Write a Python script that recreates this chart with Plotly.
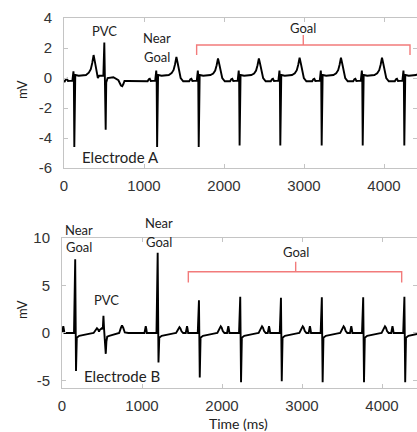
import plotly.graph_objects as go

# ---------------- data ----------------
# Electrode A: beat (spike) times and peak values
A_beat_ms = [125, 1160, 1680, 2191, 2700, 3217, 3730, 4250]
A_r_mv = [0.45, 0.5, 0.5, 0.5, 0.5, 0.5, 0.5, 0.5]
A_s_mv = [-4.6, -4.6, -4.6, -4.5, -4.5, -4.5, -4.5, -4.5]
A_t_mv = [1.53, 1.4, 1.3, 1.3, 1.35, 1.35, 1.35, 1.3]
# typical beat shape (offset from spike, ms / mV)
A_wave_dt = [-115, -100, -88, -75, -20, -7, -2, 4, 10, 16, 60, 150, 185, 210, 228, 245, 262, 278, 298, 330]
A_wave_mv = [-0.22, -0.08, -0.05, -0.2, -0.18, 0.5, 0.1, -4.5, -0.4, 0.2, 0.15, 0.2, 0.3, 0.5, 0.85, 1.3, 0.9, 0.45, 0.0, -0.22]
A_start_ms = [0]
A_start_mv = [-0.15]
# premature ventricular complex in electrode A
A_pvc_ms = [440, 470, 492, 504, 511, 516, 521, 528, 545, 617, 680, 712, 728, 742, 756, 800]
A_pvc_mv = [0.15, 0.15, 0.15, 2.37, 0.3, -0.3, -3.45, -0.3, 0.0, 0.05, -0.15, -0.5, -0.55, -0.4, -0.2, -0.2]

# Electrode B
B_beat_ms = [165, 1196, 1712, 2228, 2737, 3248, 3765, 4280]
B_r_mv = [7.75, 8.45, 3.45, 3.8, 3.7, 3.75, 3.75, 3.8]
B_s_mv = [-4.0, -3.1, -4.7, -5.2, -5.1, -5.2, -5.2, -5.2]
B_t_mv = [0.5, 0.6, 0.7, 0.7, 0.7, 0.7, 0.7, 0.7]
B_wave_dt = [-165, -155, -149, -143, -135, -15, 0, 10, 20, 50, 120, 200, 230, 245, 260, 272, 284, 298, 318]
B_wave_mv = [0.0, 0.45, 0.7, 0.45, 0.0, 0.0, 3.8, -5.2, -0.5, -0.3, -0.15, -0.05, 0.0, 0.3, 0.6, 0.7, 0.55, 0.2, 0.0]
B_pvc_ms = [470, 490, 500, 510, 518, 526, 534, 540, 547, 555, 565, 590, 650, 715, 735, 750, 765, 785, 830]
B_pvc_mv = [0.3, 0.45, 0.5, 0.4, 1.8, 0.4, -0.4, -1.0, -2.2, -0.9, -0.4, -0.3, -0.15, 0.0, 0.5, 0.8, 0.55, 0.05, 0.0]

# tick labels
x_ticks = [0, 1000, 2000, 3000, 4000]
x_ticktext = ["0", "1000", "2000", "3000", "4000"]
A_yticks = [-6, -4, -2, 0, 2, 4]
A_yticktext = ["-6", "-4", "-2", "0", "2", "4"]
B_yticks = [-5, 0, 5, 10]
B_yticktext = ["-5", "0", "5", "10"]

# goal brackets: x start, x middle, x end ; y end, y bar, y tip
A_goal_x = [1658, 2991, 4325]
A_goal_y = [1.53, 2.2, 2.87]
B_goal_x = [1579, 2921, 4246]
B_goal_y = [5.3, 6.45, 7.5]

R_IDX_A, S_IDX_A, T_IDX_A = 5, 7, 15
R_IDX_B, S_IDX_B, T_IDX_B = 6, 7, 15


def build(beats, r, s, tpk, dts, vals, ri, si, ti, pvc_t, pvc_v, start_t, start_v):
    pts = list(zip(start_t, start_v))
    tnom = vals[ti]
    for k, t0 in enumerate(beats):
        for i, (dt, v) in enumerate(zip(dts, vals)):
            if i == ri:
                v = r[k]
            elif i == si:
                v = s[k]
            elif dts[ti] - 70 <= dt <= dts[ti] + 55 and v > 0:
                v = v * tpk[k] / tnom
            t = t0 + dt
            if pvc_t[0] <= t <= pvc_t[-1]:
                continue
            pts.append((t, v))
    pts += list(zip(pvc_t, pvc_v))
    pts.sort()
    return [p[0] for p in pts], [p[1] for p in pts]


A_x, A_y = build(A_beat_ms, A_r_mv, A_s_mv, A_t_mv, A_wave_dt, A_wave_mv,
                 R_IDX_A, S_IDX_A, T_IDX_A, A_pvc_ms, A_pvc_mv, A_start_ms, A_start_mv)
B_x, B_y = build(B_beat_ms, B_r_mv, B_s_mv, B_t_mv, B_wave_dt, B_wave_mv,
                 R_IDX_B, S_IDX_B, T_IDX_B, B_pvc_ms, B_pvc_mv, [], [])

fig = go.Figure()
fig.add_trace(go.Scatter(x=A_x, y=A_y, mode="lines", line=dict(color="black", width=1.9),
                         xaxis="x", yaxis="y", showlegend=False, hoverinfo="skip"))
fig.add_trace(go.Scatter(x=B_x, y=B_y, mode="lines", line=dict(color="black", width=1.9),
                         xaxis="x2", yaxis="y2", showlegend=False, hoverinfo="skip"))


def bracket(gx, gy):
    xs = [gx[0], gx[0], gx[1], gx[1], gx[1], gx[2], gx[2]]
    ys = [gy[0], gy[1], gy[1], gy[2], gy[1], gy[1], gy[0]]
    return xs, ys


bx, by = bracket(A_goal_x, A_goal_y)
fig.add_trace(go.Scatter(x=bx, y=by, mode="lines", line=dict(color="#f27b7b", width=1.4),
                         xaxis="x", yaxis="y", showlegend=False, hoverinfo="skip"))
bx, by = bracket(B_goal_x, B_goal_y)
fig.add_trace(go.Scatter(x=bx, y=by, mode="lines", line=dict(color="#f27b7b", width=1.4),
                         xaxis="x2", yaxis="y2", showlegend=False, hoverinfo="skip"))

grid = "#c4c4c4"
tickfont = dict(family="Liberation Sans, Arial, sans-serif", size=15, color="#333333")
common = dict(showline=True, linecolor=grid, linewidth=1, mirror="ticks", ticks="inside",
              ticklen=4, tickcolor=grid, showgrid=False, zeroline=False, tickfont=tickfont,
              automargin=False)

W, H = 417, 432
L, R, T, B = 62, 0, 18, 44
pw, ph = W - L - R, H - T - B

fig.update_layout(
    width=W, height=H,
    margin=dict(l=L, r=R, t=T, b=B, autoexpand=False),
    paper_bgcolor="white", plot_bgcolor="white",
    xaxis=dict(domain=[2 / pw, 1], range=[0, (W - 64) / 0.08], anchor="y",
               tickvals=x_ticks, ticktext=x_ticktext, ticklabelstandoff=4, **common),
    yaxis=dict(domain=[(H - B - 168) / ph, 1], range=[-6, 4], anchor="x",
               tickvals=A_yticks, ticktext=A_yticktext, ticklabelstandoff=8, **common),
    xaxis2=dict(domain=[0, 1], range=[0, (W - 62) / 0.08], anchor="y2",
                tickvals=x_ticks, ticktext=x_ticktext, ticklabelstandoff=4, **common),
    yaxis2=dict(domain=[0, (H - B - 238) / ph], range=[-5.8, 10], anchor="x2",
                tickvals=B_yticks, ticktext=B_yticktext, ticklabelstandoff=8, **common),
)

lab = dict(family="Lato, Open Sans, sans-serif", size=13, color="#222222")
big = dict(family="Lato, Open Sans, sans-serif", size=15, color="#222222")


def ann(text, x, y, xr, yr, font, yshift=0):
    fig.add_annotation(text=text, x=x, y=y, xref=xr, yref=yr, showarrow=False,
                       font=font, xanchor="center", yanchor="middle", yshift=yshift)


ann("PVC", 512, 3.15, "x", "y", lab)
ann("Near", 1160, 1.38, "x", "y", lab, yshift=19)
ann("Goal", 1160, 1.38, "x", "y", lab)
ann("Goal", A_goal_x[1], 3.33, "x", "y", lab)
ann("Electrode A", 700, -5.29, "x", "y", big)

ann("Near", 212, 9.08, "x2", "y2", lab, yshift=17)
ann("Goal", 212, 9.08, "x2", "y2", lab)
ann("Near", 1212, 9.6, "x2", "y2", lab, yshift=19)
ann("Goal", 1212, 9.6, "x2", "y2", lab)
ann("PVC", 559, 3.47, "x2", "y2", lab)
ann("Goal", B_goal_x[1], 8.5, "x2", "y2", lab)
ann("Electrode B", 746, -4.53, "x2", "y2", big)

axf = dict(family="Lato, Open Sans, sans-serif", size=13, color="#222222")
fig.add_annotation(text="mV", x=(22 - L) / pw, y=(H - B - 90) / ph, xref="paper", yref="paper",
                   showarrow=False, textangle=-90, font=axf, xanchor="center", yanchor="middle")
fig.add_annotation(text="mV", x=(22 - L) / pw, y=(H - B - 310) / ph, xref="paper", yref="paper",
                   showarrow=False, textangle=-90, font=axf, xanchor="center", yanchor="middle")
fig.add_annotation(text="Time (ms)", x=(238 - L) / pw, y=(H - B - 424) / ph, xref="paper", yref="paper",
                   showarrow=False, font=dict(family="Lato, Open Sans, sans-serif", size=14, color="#222222"),
                   xanchor="center", yanchor="middle")

fig.write_html("out.html", config={"displayModeBar": False, "staticPlot": True},
               post_script="document.body.style.margin='0px';document.body.style.overflow='hidden';")
